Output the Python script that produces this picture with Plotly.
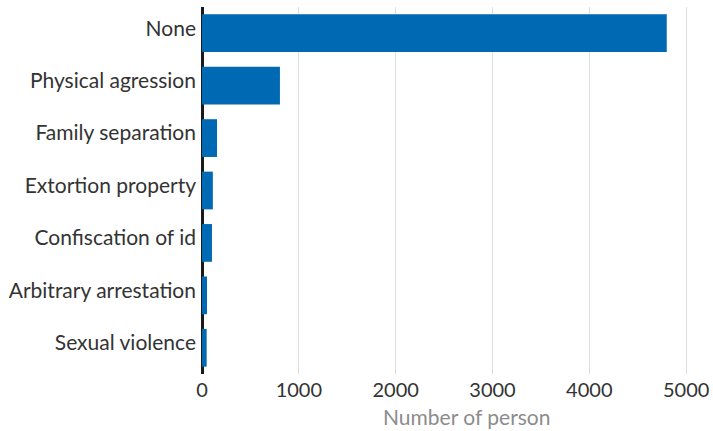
import plotly.graph_objects as go

categories = ["None", "Physical agression", "Family separation", "Extortion property",
              "Confiscation of id", "Arbitrary arrestation", "Sexual violence"]
values = [4800, 805, 155, 112, 103, 52, 48]
x_ticks = [0, 1000, 2000, 3000, 4000, 5000]

W, H = 713, 431
ml, mr, mt, mb = 202, 23, 7, 57

fig = go.Figure(go.Bar(
    x=values, y=categories, orientation="h",
    marker=dict(color="#0069b4", line=dict(width=0)),
    hoverinfo="x+y",
))

fig.update_layout(
    width=W, height=H,
    margin=dict(l=ml, r=mr, t=mt, b=mb, pad=0, autoexpand=False),
    paper_bgcolor="white", plot_bgcolor="white",
    font=dict(family="Lato", size=20, color="#333333"),
    bargap=0.28,
    showlegend=False,
    xaxis=dict(
        range=[0, 5040], tickvals=x_ticks, ticktext=[str(v) for v in x_ticks],
        showgrid=True, gridcolor="#dddddd", gridwidth=1,
        zeroline=True, zerolinecolor="#1a1a1a", zerolinewidth=2.5,
        showline=False, ticks="", ticklabelstandoff=2,
        tickfont=dict(size=20, color="#333333"),
        automargin=False,
    ),
    yaxis=dict(
        categoryorder="array", categoryarray=categories[::-1],
        autorange=True,
        showgrid=False, zeroline=False,
        showline=False,
        ticks="", ticklabelstandoff=5, ticklabelshift=-5,
        tickfont=dict(size=21, color="#333333"),
        automargin=False,
    ),
    annotations=[dict(
        text="Number of person", xref="paper", yref="paper",
        x=(466 - ml) / (W - ml - mr), y=0, yshift=-57,
        xanchor="center", yanchor="bottom", showarrow=False,
        font=dict(family="Lato", size=21, color="#8c8c8c"),
    )],
)

fig.write_html("out.html", config={"displayModeBar": False},
               post_script="document.body.style.margin='0';document.body.style.padding='0';")
